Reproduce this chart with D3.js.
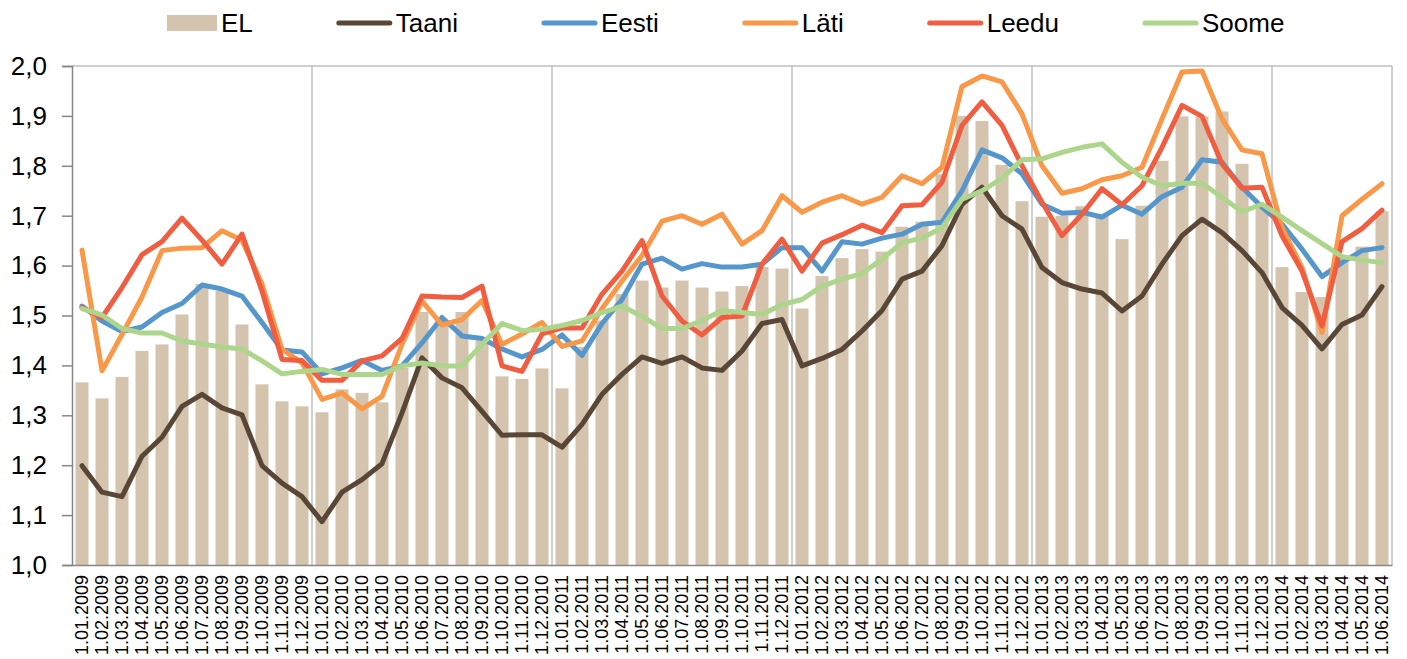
<!DOCTYPE html>
<html>
<head>
<meta charset="utf-8">
<script src="https://cdn.jsdelivr.net/npm/d3@7"></script>
<style>
  body { margin: 0; background: #fff; }
  svg { display: block; font-family: "Liberation Sans", Arial, sans-serif; }
</style>
</head>
<body>
<svg id="chart"></svg>
<script>
// Kuud (kategooriad)
const months = [
  "1.01.2009","1.02.2009","1.03.2009","1.04.2009","1.05.2009","1.06.2009","1.07.2009","1.08.2009","1.09.2009","1.10.2009","1.11.2009","1.12.2009",
  "1.01.2010","1.02.2010","1.03.2010","1.04.2010","1.05.2010","1.06.2010","1.07.2010","1.08.2010","1.09.2010","1.10.2010","1.11.2010","1.12.2010",
  "1.01.2011","1.02.2011","1.03.2011","1.04.2011","1.05.2011","1.06.2011","1.07.2011","1.08.2011","1.09.2011","1.10.2011","1.11.2011","1.12.2011",
  "1.01.2012","1.02.2012","1.03.2012","1.04.2012","1.05.2012","1.06.2012","1.07.2012","1.08.2012","1.09.2012","1.10.2012","1.11.2012","1.12.2012",
  "1.01.2013","1.02.2013","1.03.2013","1.04.2013","1.05.2013","1.06.2013","1.07.2013","1.08.2013","1.09.2013","1.10.2013","1.11.2013","1.12.2013",
  "1.01.2014","1.02.2014","1.03.2014","1.04.2014","1.05.2014","1.06.2014"
];

// EL (tulbad)
const el = [
  1.366,1.334,1.377,1.429,1.442,1.502,1.563,1.549,1.482,1.362,1.328,1.318,
  1.306,1.352,1.345,1.326,1.395,1.507,1.490,1.507,1.450,1.378,1.373,1.394,
  1.354,1.437,1.490,1.543,1.570,1.556,1.570,1.556,1.548,1.559,1.597,1.594,
  1.514,1.579,1.615,1.633,1.628,1.678,1.688,1.783,1.900,1.890,1.802,1.729,
  1.698,1.700,1.719,1.704,1.653,1.720,1.810,1.899,1.899,1.909,1.804,1.720,
  1.597,1.547,1.537,1.615,1.638,1.709
];

const taani = [
  1.199,1.146,1.137,1.218,1.256,1.318,1.342,1.315,1.301,1.199,1.164,1.137,
  1.087,1.146,1.171,1.203,1.305,1.415,1.375,1.355,1.308,1.260,1.261,1.261,
  1.236,1.282,1.342,1.382,1.417,1.404,1.417,1.395,1.390,1.429,1.484,1.492,
  1.399,1.414,1.432,1.469,1.510,1.573,1.589,1.640,1.723,1.757,1.700,1.673,
  1.596,1.566,1.553,1.545,1.509,1.539,1.603,1.660,1.693,1.666,1.630,1.586,
  1.516,1.480,1.433,1.482,1.501,1.558
];

const eesti = [
  1.519,1.489,1.468,1.477,1.506,1.524,1.561,1.553,1.539,1.486,1.431,1.427,
  1.383,1.395,1.410,1.390,1.399,1.445,1.496,1.459,1.454,1.433,1.417,1.432,
  1.461,1.420,1.484,1.532,1.603,1.615,1.593,1.604,1.597,1.597,1.603,1.636,
  1.636,1.589,1.648,1.643,1.655,1.663,1.683,1.687,1.750,1.832,1.816,1.784,
  1.723,1.705,1.707,1.697,1.721,1.703,1.738,1.757,1.812,1.807,1.757,1.717,
  1.683,1.633,1.578,1.606,1.630,1.636
];

const lati = [
  1.631,1.389,1.462,1.537,1.630,1.635,1.636,1.670,1.651,1.563,1.432,1.405,
  1.332,1.345,1.313,1.338,1.442,1.529,1.481,1.492,1.530,1.442,1.463,1.486,
  1.438,1.449,1.514,1.569,1.620,1.689,1.700,1.683,1.703,1.643,1.670,1.740,
  1.707,1.727,1.740,1.723,1.737,1.780,1.764,1.797,1.959,1.980,1.968,1.904,
  1.800,1.745,1.754,1.772,1.780,1.797,1.894,1.988,1.990,1.894,1.832,1.824,
  1.676,1.596,1.466,1.700,1.733,1.764
];

const leedu = [
  1.516,1.496,1.556,1.622,1.648,1.695,1.651,1.603,1.663,1.549,1.412,1.410,
  1.370,1.370,1.409,1.419,1.454,1.539,1.537,1.536,1.559,1.399,1.388,1.463,
  1.475,1.475,1.543,1.589,1.650,1.539,1.489,1.461,1.496,1.499,1.603,1.653,
  1.589,1.645,1.662,1.681,1.666,1.720,1.722,1.767,1.881,1.928,1.881,1.800,
  1.727,1.660,1.703,1.754,1.722,1.760,1.837,1.921,1.899,1.804,1.755,1.757,
  1.660,1.589,1.479,1.648,1.674,1.711
];

const soome = [
  1.514,1.501,1.474,1.465,1.465,1.449,1.443,1.437,1.433,1.409,1.383,1.388,
  1.392,1.382,1.382,1.382,1.399,1.405,1.399,1.399,1.442,1.484,1.470,1.472,
  1.480,1.490,1.506,1.519,1.498,1.474,1.474,1.490,1.510,1.506,1.502,1.522,
  1.532,1.559,1.573,1.584,1.613,1.646,1.655,1.676,1.733,1.750,1.775,1.812,
  1.814,1.827,1.837,1.844,1.807,1.777,1.760,1.765,1.765,1.737,1.708,1.723,
  1.697,1.670,1.644,1.618,1.611,1.606
];

const yTicks = [1.0,1.1,1.2,1.3,1.4,1.5,1.6,1.7,1.8,1.9,2.0];

// Jooned legendi järjekorras
const lineSeries = [
  { name: "Taani", values: taani, color: "#5a4636" },
  { name: "Eesti", values: eesti, color: "#5596cd" },
  { name: "Läti",  values: lati,  color: "#f89848" },
  { name: "Leedu", values: leedu, color: "#f05d40" },
  { name: "Soome", values: soome, color: "#add58c" }
];
const barColor = "#d4c4ae";

// Mõõdud
const W = 1407, H = 659;
const margin = { top: 66, right: 15, bottom: 94, left: 72 };
const width = W - margin.left - margin.right;
const height = H - margin.top - margin.bottom;

const svg = d3.select("#chart").attr("width", W).attr("height", H);
const g = svg.append("g").attr("transform", `translate(${margin.left},${margin.top})`);

// Skaalad
const x = d3.scaleBand().domain(months).range([0, width]).paddingInner(0.35).paddingOuter(0.175);
const y = d3.scaleLinear().domain([1.0, 2.0]).range([height, 0]);
const cx = m => x(m) + x.bandwidth() / 2;

// Raam ja aastate vertikaaljooned
g.append("line").attr("x1", 0).attr("x2", width).attr("y1", 0).attr("y2", 0)
  .attr("stroke", "#bfbfbf").attr("stroke-width", 1.5);
g.append("line").attr("x1", width).attr("x2", width).attr("y1", 0).attr("y2", height)
  .attr("stroke", "#bfbfbf").attr("stroke-width", 1.5);

const yearStarts = months.filter((m, i) => i > 0 && m.startsWith("1.01."));
g.selectAll(".vgrid")
  .data(yearStarts)
  .enter().append("line")
  .attr("class", "vgrid")
  .attr("x1", d => x(d) - x.step() * x.paddingInner() / 2)
  .attr("x2", d => x(d) - x.step() * x.paddingInner() / 2)
  .attr("y1", 0).attr("y2", height)
  .attr("stroke", "#bfbfbf").attr("stroke-width", 1.5);

// Tulbad
g.selectAll(".bar")
  .data(months)
  .enter().append("rect")
  .attr("class", "bar")
  .attr("x", d => x(d))
  .attr("y", (d, i) => y(el[i]))
  .attr("width", x.bandwidth())
  .attr("height", (d, i) => height - y(el[i]))
  .attr("fill", barColor);

// Jooned
const line = d3.line()
  .x((v, i) => cx(months[i]))
  .y(v => y(v));

lineSeries.forEach(s => {
  g.append("path")
    .datum(s.values)
    .attr("fill", "none")
    .attr("stroke", s.color)
    .attr("stroke-width", 5)
    .attr("stroke-linejoin", "round")
    .attr("stroke-linecap", "round")
    .attr("d", line);
});

// Teljed
const yAxis = g.append("g")
  .call(d3.axisLeft(y).tickValues(yTicks).tickSize(10).tickPadding(15)
    .tickFormat(d => d3.format(".1f")(d).replace(".", ",")));
yAxis.select(".domain").attr("stroke", "#868686").attr("stroke-width", 1.5);
yAxis.selectAll(".tick line").attr("stroke", "#868686").attr("stroke-width", 1.5);
yAxis.selectAll(".tick text").style("font-size", "26px").attr("fill", "#000")
  .attr("font-family", "Liberation Sans, Arial, sans-serif");

const xAxis = g.append("g")
  .attr("transform", `translate(0,${height})`)
  .call(d3.axisBottom(x).tickSize(0).tickPadding(0));
xAxis.select(".domain").attr("stroke", "#868686").attr("stroke-width", 1.5);
xAxis.selectAll(".tick text")
  .attr("transform", "rotate(-90)")
  .attr("text-anchor", "end")
  .attr("x", -10)
  .attr("y", 0)
  .attr("dy", "0.36em")
  .attr("fill", "#000")
  .attr("font-family", "Liberation Sans, Arial, sans-serif")
  .style("font-size", "18px");

// Legend
const legendItems = [{ name: "EL", type: "bar", color: barColor }]
  .concat(lineSeries.map(s => ({ name: s.name, type: "line", color: s.color })));

const legend = svg.append("g").attr("transform", "translate(167,23)");
let lx = 0;
legendItems.forEach(it => {
  const item = legend.append("g").attr("transform", `translate(${lx},0)`);
  let sw;
  if (it.type === "bar") {
    sw = 50;
    item.append("rect").attr("x", 0).attr("y", -8).attr("width", sw).attr("height", 16).attr("fill", it.color);
  } else {
    sw = 55;
    item.append("line").attr("x1", 2).attr("x2", sw - 2).attr("y1", 0).attr("y2", 0)
      .attr("stroke", it.color).attr("stroke-width", 5).attr("stroke-linecap", "round");
  }
  const t = item.append("text")
    .attr("x", sw + 4)
    .attr("y", 0)
    .attr("dy", "0.36em")
    .style("font-size", "26px")
    .attr("fill", "#000")
    .text(it.name);
  lx += sw + 4 + t.node().getComputedTextLength() + 84;
});
</script>
</body>
</html>
